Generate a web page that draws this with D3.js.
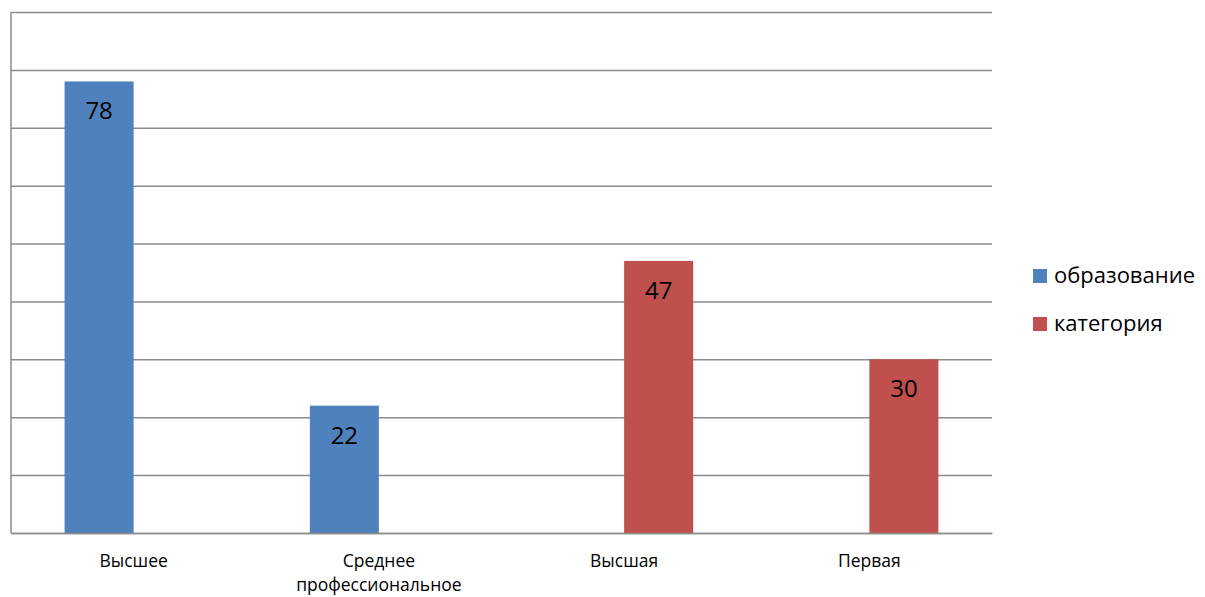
<!DOCTYPE html>
<html lang="ru">
<head>
<meta charset="UTF-8">
<link rel="icon" href="data:,">
<script src="https://cdn.jsdelivr.net/npm/d3@7/dist/d3.min.js"></script>
<style>
body { margin: 0; background: #fff; }
svg { display: block; font-family: "Open Sans", "Noto Sans", sans-serif; }
.grid line { stroke: #8c8c8c; stroke-width: 1.5; }
.grid path { display: none; }
.axis path, .axis line { stroke: #8c8c8c; stroke-width: 1.5; }
</style>
</head>
<body>
<svg id="chart"></svg>
<script>
const categories = ["Высшее", "Среднее профессиональное", "Высшая", "Первая"];
const series = ["образование", "категория"];
const obrazovanie = [78, 22, null, null];
const kategoriya = [null, null, 47, 30];
const colors = ["#4F81BD", "#C0504D"];
const yTicks = [0, 10, 20, 30, 40, 50, 60, 70, 80, 90];

const width = 1205, height = 597;
const margin = { left: 11, right: 213, top: 12, bottom: 64 };
const innerW = width - margin.left - margin.right;
const innerH = height - margin.top - margin.bottom;

const svg = d3.select("#chart").attr("width", width).attr("height", height);
const g = svg.append("g").attr("transform", `translate(${margin.left},${margin.top})`);

const x = d3.scaleBand().domain(categories).range([0, innerW])
    .paddingInner(0.437).paddingOuter(0.437 / 2);
const xs = d3.scaleBand().domain(series).range([0, x.bandwidth()]);
const y = d3.scaleLinear().domain([0, 90]).range([innerH, 0]);

// horizontal gridlines
g.append("g").attr("class", "grid")
    .call(d3.axisLeft(y).tickValues(yTicks).tickSize(-innerW).tickFormat(""));

// left axis line
g.append("line").attr("class", "axisline")
    .attr("x1", 0).attr("x2", 0).attr("y1", 0).attr("y2", innerH)
    .attr("stroke", "#8c8c8c").attr("stroke-width", 1.5);

const rows = [];
categories.forEach((c, i) => {
    [obrazovanie, kategoriya].forEach((arr, s) => {
        if (arr[i] != null) rows.push({ cat: c, s: s, v: arr[i] });
    });
});

g.selectAll("rect.bar").data(rows).enter().append("rect")
    .attr("class", "bar")
    .attr("x", d => x(d.cat) + xs(series[d.s]))
    .attr("width", xs.bandwidth())
    .attr("y", d => y(d.v))
    .attr("height", d => innerH - y(d.v))
    .attr("fill", d => colors[d.s]);

g.selectAll("text.val").data(rows).enter().append("text")
    .attr("class", "val")
    .attr("x", d => x(d.cat) + xs(series[d.s]) + xs.bandwidth() / 2)
    .attr("y", d => y(d.v) + 38)
    .attr("text-anchor", "middle")
    .attr("font-size", 24)
    .attr("fill", "#000")
    .text(d => d.v);

// bottom axis
g.append("g").attr("class", "axis")
    .attr("transform", `translate(0,${innerH})`)
    .call(d3.axisBottom(x).tickSize(0).tickFormat(""));

const labels = g.append("g");
categories.forEach(c => {
    const words = c.split(" ");
    const t = labels.append("text")
        .attr("x", x(c) + x.bandwidth() / 2)
        .attr("y", innerH + 34)
        .attr("text-anchor", "middle")
        .attr("font-size", 17.5)
        .attr("fill", "#000");
    words.forEach((w, k) => {
        t.append("tspan").attr("x", x(c) + x.bandwidth() / 2)
            .attr("dy", k === 0 ? 0 : 24).text(w);
    });
});

// legend
const legend = svg.append("g").attr("transform", "translate(1033,269)");
series.forEach((s, i) => {
    const row = legend.append("g").attr("transform", `translate(0,${i * 48})`);
    row.append("rect").attr("width", 14).attr("height", 14).attr("fill", colors[i]);
    row.append("text").attr("x", 21).attr("y", 14).attr("font-size", 22)
        .attr("fill", "#000").text(s);
});
</script>
</body>
</html>
